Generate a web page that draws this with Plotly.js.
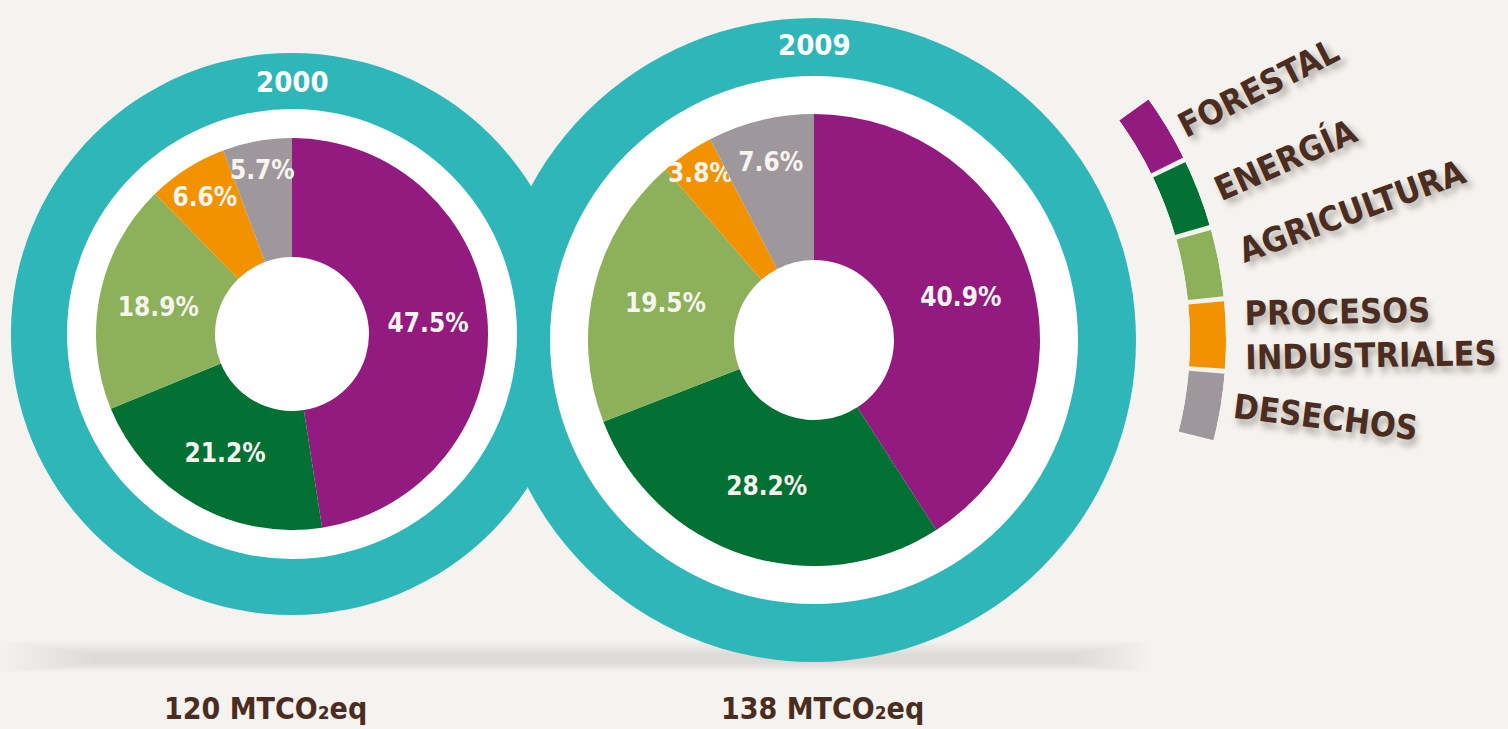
<!DOCTYPE html>
<html>
<head>
<meta charset="utf-8">
<script src="https://cdn.plot.ly/plotly-3.0.1.min.js"></script>
<style>
  html, body { margin: 0; padding: 0; background: #f4f3ef; }
  #chart { width: 1508px; height: 729px; }
</style>
</head>
<body>
<div id="chart"></div>
<script>
// ---- data ----
const categories = ['FORESTAL', 'ENERGÍA', 'AGRICULTURA', 'PROCESOS INDUSTRIALES', 'DESECHOS'];
const values2000 = [47.5, 21.2, 18.9, 6.6, 5.7];
const values2009 = [40.9, 28.2, 19.5, 3.8, 7.6];
const years = ['2000', '2009'];
const totals = ['120 MTCO₂eq', '138 MTCO₂eq'];

// ---- style ----
const colors = ['#931a7e', '#007133', '#8db05a', '#f39200', '#9e989c'];
const TEAL = '#2eb6b8';
const BG = '#f4f3ef';
const BROWN = '#4a2c20';
const FONT = '"DejaVu Sans Condensed", "Liberation Sans Narrow", "DejaVu Sans", sans-serif';
const W = 1508, H = 729;

// donut geometry (px)
const D = [
  {cx: 292, cy: 334, teal: 281, white: 225, pie: 196, hole: 77, yearY: 82, totalX: 265},
  {cx: 814, cy: 340, teal: 322, white: 264, pie: 226, hole: 80, yearY: 45, totalX: 822}
];
function dom(cx, cy, r) {
  return {x: [(cx - r) / W, (cx + r) / W], y: [1 - (cy + r) / H, 1 - (cy - r) / H]};
}
function disc(d, r, color) {
  return {type: 'pie', values: [1], labels: ['x'], marker: {colors: [color], line: {width: 0}},
          domain: dom(d.cx, d.cy, r), textinfo: 'none', hoverinfo: 'skip', sort: false, showlegend: false};
}

const traces = [];
D.forEach(d => traces.push(disc(d, d.teal, TEAL)));
D.forEach(d => traces.push(disc(d, d.white, '#ffffff')));
[values2000, values2009].forEach((vals, k) => {
  const d = D[k];
  traces.push({
    type: 'pie', labels: categories, values: vals, sort: false, direction: 'clockwise', rotation: 0,
    hole: d.hole / d.pie, domain: dom(d.cx, d.cy, d.pie),
    marker: {colors: colors, line: {width: 0}},
    texttemplate: '%{value:.1f}%', textposition: 'inside', insidetextorientation: 'horizontal',
    insidetextfont: {family: FONT, size: 26, color: '#f7f5f0', weight: 'bold'},
    hoverinfo: 'skip', showlegend: false
  });
});

// legend arc (concentric with the 2009 donut)
const LEG = {cx: 814, cy: 340, rOut: 412, rIn: 376, sector: [-16, 38]};
const s0 = Math.sin(LEG.sector[0] * Math.PI / 180), s1 = Math.sin(LEG.sector[1] * Math.PI / 180);
const polarDomain = {
  x: [LEG.cx / W, (LEG.cx + LEG.rOut) / W],
  y: [1 - (LEG.cy - s0 * LEG.rOut) / H, 1 - (LEG.cy - s1 * LEG.rOut) / H]
};
traces.push({
  type: 'barpolar', r: categories.map(() => 1), theta: categories.map((_, i) => 31 - 10.1 * i),
  width: 9.4, marker: {color: colors, line: {width: 0}}, hoverinfo: 'skip', showlegend: false
});

const annotations = [];
// year labels
years.forEach((y, k) => annotations.push({
  text: y, xref: 'paper', yref: 'paper', x: D[k].cx / W, y: 1 - D[k].yearY / H,
  xanchor: 'center', yanchor: 'middle', showarrow: false,
  font: {family: FONT, size: 29, color: '#ffffff', weight: 'bold'}
}));
// totals
totals.forEach((t, k) => annotations.push({
  text: t, xref: 'paper', yref: 'paper', x: D[k].totalX / W, y: 1 - 708 / H,
  xanchor: 'center', yanchor: 'middle', showarrow: false,
  font: {family: FONT, size: 30, color: BROWN, weight: 'bold'}
}));
// legend labels
const legPos = [
  {x: 1258, y: 88, a: -27},
  {x: 1285, y: 160, a: -24},
  {x: 1352, y: 211, a: -20},
  {x: 1370, y: 333, a: -1},
  {x: 1325, y: 417, a: 7}
];
categories.forEach((c, i) => annotations.push({
  text: c.replace(' ', '<br>'), xref: 'paper', yref: 'paper', x: legPos[i].x / W, y: 1 - legPos[i].y / H,
  xanchor: 'center', yanchor: 'middle', align: 'left', showarrow: false, textangle: legPos[i].a,
  font: {family: FONT, size: 34, color: BROWN, weight: 'bold', shadow: '3px 6px 6px rgba(60,40,30,0.35)'}
}));

// soft shadow band under the donuts (stacked translucent layers)
const shapes = [];
const N = 12;
for (let i = 0; i < N; i++) {
  const t = i / (N - 1);
  shapes.push({
    type: 'rect', xref: 'paper', yref: 'paper', layer: 'below',
    x0: (0 + 90 * t) / W, x1: (1148 - 70 * t) / W,
    y0: 1 - (672 - 9 * t) / H, y1: 1 - (641 + 13 * t) / H,
    fillcolor: 'rgba(60,50,40,0.009)', line: {width: 0}
  });
}

const layout = {
  width: W, height: H, margin: {l: 0, r: 0, t: 0, b: 0},
  paper_bgcolor: BG, plot_bgcolor: BG, showlegend: false,
  uniformtext: {mode: 'show', minsize: 26},
  polar: {
    domain: polarDomain, sector: LEG.sector, hole: LEG.rIn / LEG.rOut, bgcolor: 'rgba(0,0,0,0)',
    radialaxis: {visible: false, range: [0, 1]},
    angularaxis: {visible: false}
  },
  annotations: annotations, shapes: shapes
};

Plotly.newPlot('chart', traces, layout, {displayModeBar: false, staticPlot: true});
</script>
</body>
</html>
